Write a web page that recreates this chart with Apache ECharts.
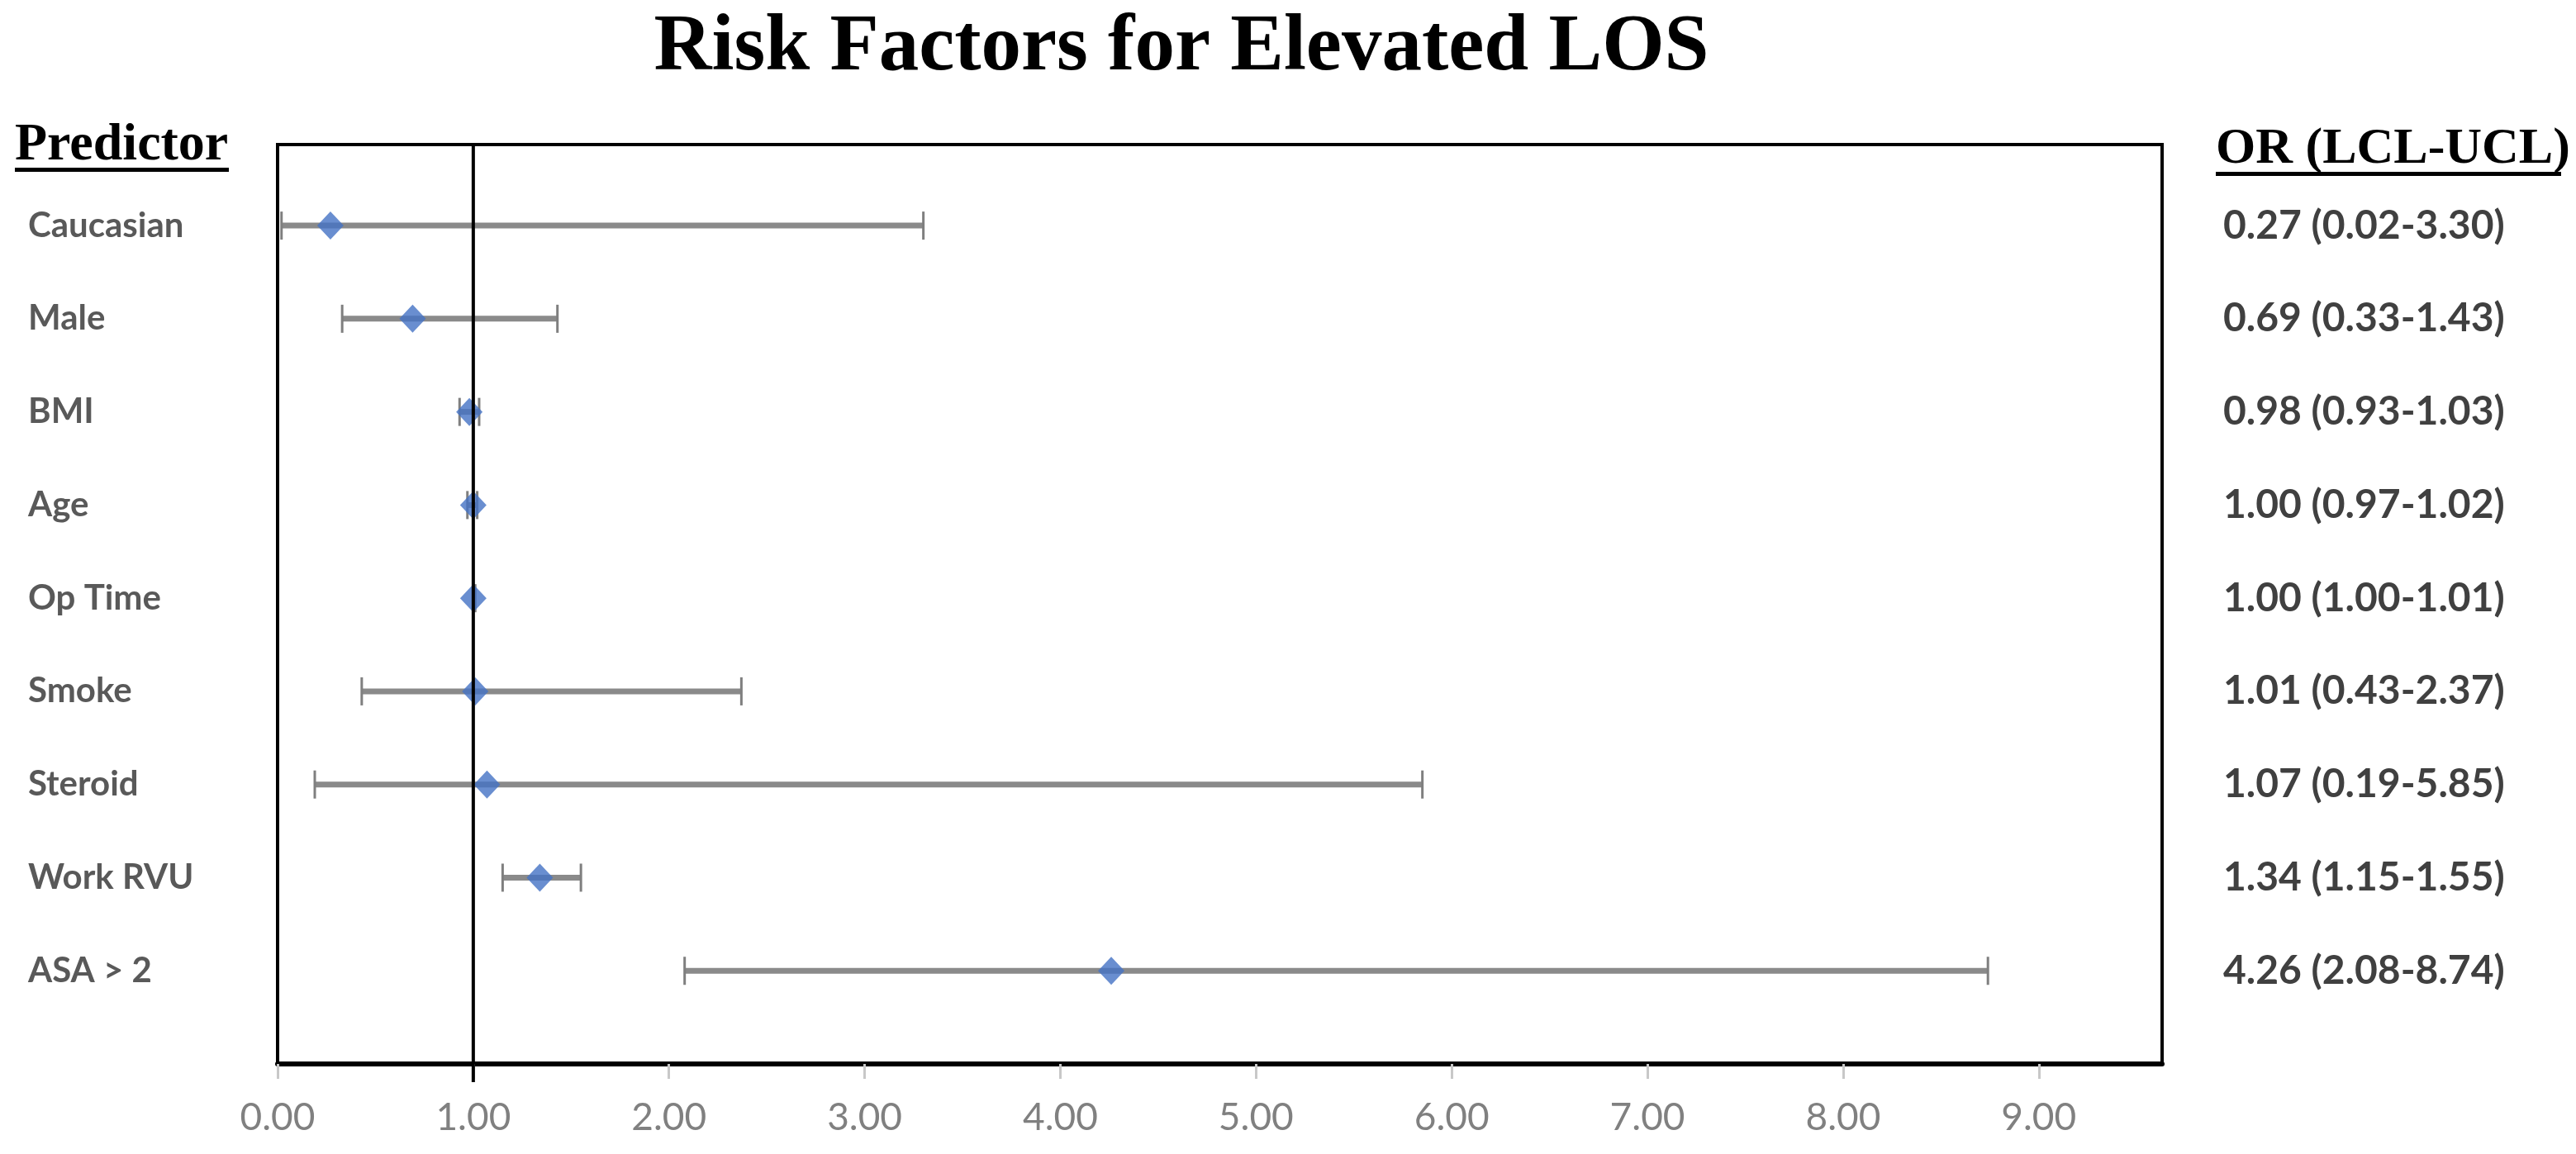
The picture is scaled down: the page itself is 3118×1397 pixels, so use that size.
<!DOCTYPE html>
<html>
<head>
<meta charset="utf-8">
<script src="https://cdn.jsdelivr.net/npm/echarts@6/dist/echarts.min.js"></script>
<style>
  html, body { margin: 0; padding: 0; background: #ffffff; }
  #chart { width: 3118px; height: 1397px; }
</style>
</head>
<body>
<div id="chart"></div>
<script>
// ---- Data ----
const categories = ['Caucasian', 'Male', 'BMI', 'Age', 'Op Time', 'Smoke', 'Steroid', 'Work RVU', 'ASA > 2'];
const orValues  = [0.27, 0.69, 0.98, 1.00, 1.00, 1.01, 1.07, 1.34, 4.26];
const lclValues = [0.02, 0.33, 0.93, 0.97, 1.00, 0.43, 0.19, 1.15, 2.08];
const uclValues = [3.30, 1.43, 1.03, 1.02, 1.01, 2.37, 5.85, 1.55, 8.74];
const xTickValues = [0, 1, 2, 3, 4, 5, 6, 7, 8, 9];
const referenceValue = [1];
const chartTitle = 'Risk Factors for Elevated LOS';
const leftHeader = 'Predictor';
const rightHeader = 'OR (LCL-UCL)';

// ---- Derived ----
const rowPositions = categories.map((c, i) => i + 1);
const orLabels = orValues.map((v, i) =>
  v.toFixed(2) + ' (' + lclValues[i].toFixed(2) + '-' + uclValues[i].toFixed(2) + ')');
const pointData = orValues.map((v, i) => [v, rowPositions[i]]);
const barData = lclValues.map((l, i) => [l, uclValues[i], rowPositions[i]]);

const sansFamily = "Lato, 'Liberation Sans', sans-serif";
const serifFamily = "'Liberation Serif', 'DejaVu Serif', serif";

const chart = echarts.init(document.getElementById('chart'), null, { renderer: 'canvas' });

const option = {
  animation: false,
  backgroundColor: '#ffffff',
  grid: {
    left: 336, right: 501, top: 175, bottom: 109,
    show: true, borderColor: '#000000', borderWidth: 4, backgroundColor: 'transparent'
  },
  xAxis: {
    type: 'value', min: 0, max: 9.63,
    axisLine: { show: true, lineStyle: { color: '#000000', width: 6 } },
    axisTick: { show: true, customValues: xTickValues, length: 18, lineStyle: { color: '#c8c8c8', width: 3 } },
    axisLabel: {
      show: true, customValues: xTickValues, margin: 42,
      formatter: v => Number(v).toFixed(2),
      color: '#808080', fontSize: 46, fontFamily: sansFamily
    },
    splitLine: { show: false }
  },
  yAxis: [
    {
      type: 'value', inverse: true, min: 0.13, max: 10, position: 'left',
      axisLine: { show: false }, axisTick: { show: false }, splitLine: { show: false },
      axisLabel: {
        show: true, customValues: rowPositions, align: 'left', margin: 302,
        formatter: v => categories[Math.round(v) - 1] || '',
        color: '#595959', fontSize: 42, fontWeight: 'bold', fontFamily: sansFamily
      }
    },
    {
      type: 'value', inverse: true, min: 0.13, max: 10, position: 'right',
      axisLine: { show: false }, axisTick: { show: false }, splitLine: { show: false },
      axisLabel: {
        show: true, customValues: rowPositions, align: 'left', margin: 74,
        formatter: v => orLabels[Math.round(v) - 1] || '',
        color: '#404040', fontSize: 48, fontWeight: 'bold', fontFamily: sansFamily
      }
    }
  ],
  series: [
    {
      type: 'custom',
      name: 'CI',
      yAxisIndex: 0,
      data: barData,
      z: 2,
      renderItem: function (params, api) {
        const y = api.value(2);
        const p1 = api.coord([api.value(0), y]);
        const p2 = api.coord([api.value(1), y]);
        const cap = 17;
        const st = { stroke: '#8a8a8a', lineWidth: 7 };
        const capSt = { stroke: '#7f7f7f', lineWidth: 3 };
        return {
          type: 'group',
          children: [
            { type: 'line', shape: { x1: p1[0], y1: p1[1], x2: p2[0], y2: p2[1] }, style: st },
            { type: 'line', shape: { x1: p1[0], y1: p1[1] - cap, x2: p1[0], y2: p1[1] + cap }, style: capSt },
            { type: 'line', shape: { x1: p2[0], y1: p2[1] - cap, x2: p2[0], y2: p2[1] + cap }, style: capSt }
          ]
        };
      }
    },
    {
      type: 'scatter',
      name: 'OR',
      yAxisIndex: 0,
      data: pointData,
      symbol: 'diamond',
      symbolSize: [32, 34],
      itemStyle: { color: '#4472C4' },
      z: 3
    },
    {
      type: 'custom',
      name: 'Reference',
      yAxisIndex: 0,
      data: referenceValue,
      clip: false,
      z: 4,
      renderItem: function (params, api) {
        const cs = params.coordSys;
        const x = api.coord([api.value(0), 5])[0];
        return {
          type: 'line',
          shape: { x1: x, y1: cs.y, x2: x, y2: cs.y + cs.height + 22 },
          style: { stroke: '#000000', lineWidth: 4 }
        };
      },
      encode: { x: 0 }
    }
  ],
  graphic: [
    {
      type: 'text', x: 1430, y: 59,
      style: { text: chartTitle, font: 'bold 97px ' + serifFamily, fill: '#000000', textAlign: 'center', textVerticalAlign: 'middle' }
    },
    {
      type: 'text', x: 18, y: 176,
      style: { text: leftHeader, font: 'bold 64px ' + serifFamily, fill: '#000000', textAlign: 'left', textVerticalAlign: 'middle' }
    },
    { type: 'rect', shape: { x: 18, y: 203, width: 259, height: 5 }, style: { fill: '#000000' } },
    {
      type: 'text', x: 2682, y: 181,
      style: { text: rightHeader, font: 'bold 62px ' + serifFamily, fill: '#000000', textAlign: 'left', textVerticalAlign: 'middle' }
    },
    { type: 'rect', shape: { x: 2682, y: 208, width: 418, height: 5 }, style: { fill: '#000000' } }
  ]
};

chart.setOption(option);
</script>
</body>
</html>
